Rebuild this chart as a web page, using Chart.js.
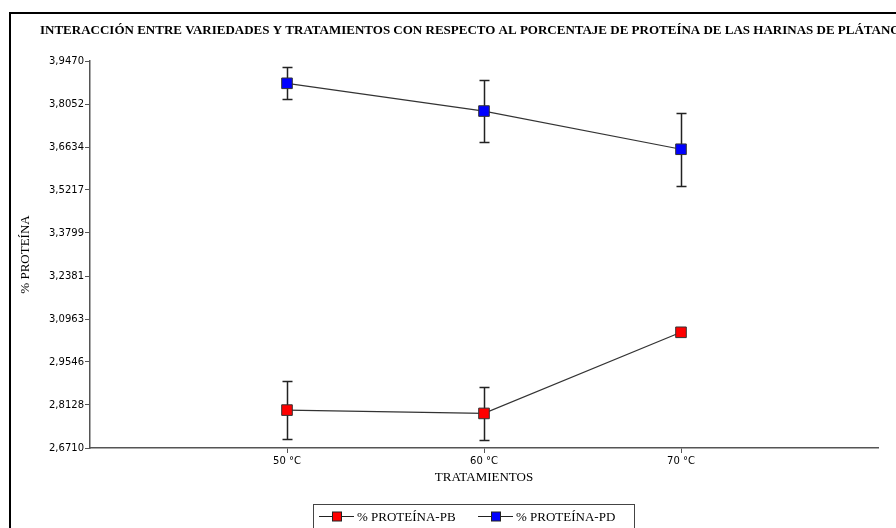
<!DOCTYPE html>
<html><head><meta charset="utf-8">
<script src="https://cdn.jsdelivr.net/npm/chart.js@4.4.0/dist/chart.umd.min.js"></script>
<style>
html,body{margin:0;padding:0;background:#fff;overflow:hidden}
#wrap{position:relative;width:896px;height:528px;overflow:hidden}
#frame{position:absolute;left:9px;top:12px;width:1000px;height:1000px;border:2px solid #000;box-sizing:border-box}
canvas{position:absolute;left:0;top:0}
</style></head><body>
<div id="wrap"><div id="frame"></div><canvas id="c" width="896" height="528"></canvas></div>
<script>
const chartTitle = 'INTERACCIÓN ENTRE VARIEDADES Y TRATAMIENTOS CON RESPECTO AL PORCENTAJE DE PROTEÍNA DE LAS HARINAS DE PLÁTANO';
const xAxisTitle = 'TRATAMIENTOS';
const yAxisTitle = '% PROTEÍNA';
const categories = ['50 °C', '60 °C', '70 °C'];
const seriesNames = ['% PROTEÍNA-PB', '% PROTEÍNA-PD'];
const pbValues = [2.796, 2.785, 3.0525];
const pbErrors = [0.096, 0.086, 0];
const pdValues = [3.8735, 3.782, 3.656];
const pdErrors = [0.053, 0.101, 0.121];
const yTickValues = [2.6710, 2.8128, 2.9546, 3.0963, 3.2381, 3.3799, 3.5217, 3.6634, 3.8052, 3.9470];
const yTickLabels = ['2,6710', '2,8128', '2,9546', '3,0963', '3,2381', '3,3799', '3,5217', '3,6634', '3,8052', '3,9470'];
const seriesColors = ['#FF0000', '#0000FF'];

const toPoints = vals => vals.map((v, i) => ({x: i + 1, y: v}));

const errorBarPlugin = {
  id: 'errorBars',
  beforeDatasetsDraw(chart) {
    const {ctx, scales: {x, y}} = chart;
    chart.data.datasets.forEach(ds => {
      ds.data.forEach((p, i) => {
        const e = ds.errors[i];
        if (!e) return;
        const px = Math.round(x.getPixelForValue(p.x)) + 0.5;
        const top = Math.round(y.getPixelForValue(p.y + e)) + 0.5;
        const bot = Math.round(y.getPixelForValue(p.y - e)) + 0.5;
        ctx.save();
        ctx.strokeStyle = '#222';
        ctx.lineWidth = 1.5;
        ctx.beginPath();
        ctx.moveTo(px, top); ctx.lineTo(px, bot);
        ctx.moveTo(px - 5, top); ctx.lineTo(px + 5, top);
        ctx.moveTo(px - 5, bot); ctx.lineTo(px + 5, bot);
        ctx.stroke();
        ctx.restore();
      });
    });
  }
};

const titlePlugin = {
  id: 'leftTitle',
  afterDraw(chart) {
    const ctx = chart.ctx;
    ctx.save();
    ctx.fillStyle = '#000';
    ctx.font = 'bold 13px "Liberation Serif", serif';
    ctx.textAlign = 'left';
    ctx.textBaseline = 'middle';
    ctx.fillText(chartTitle, 40, 31);
    ctx.restore();
  }
};

const legendPlugin = {
  id: 'boxLegend',
  afterDraw(chart) {
    const ctx = chart.ctx;
    ctx.save();
    ctx.strokeStyle = '#444';
    ctx.lineWidth = 1;
    ctx.strokeRect(313.5, 504.5, 321, 40);
    const items = [{x: 319, text: seriesNames[0], color: seriesColors[0]}, {x: 478, text: seriesNames[1], color: seriesColors[1]}];
    const cy = 516.5;
    ctx.font = '13px "Liberation Serif", serif';
    ctx.textBaseline = 'middle';
    ctx.textAlign = 'left';
    items.forEach(it => {
      ctx.strokeStyle = '#222';
      ctx.lineWidth = 1;
      ctx.beginPath();
      ctx.moveTo(it.x, cy); ctx.lineTo(it.x + 35, cy);
      ctx.stroke();
      ctx.fillStyle = it.color;
      ctx.fillRect(it.x + 13.5, cy - 4.5, 9, 9);
      ctx.strokeRect(it.x + 13.5, cy - 4.5, 9, 9);
      ctx.fillStyle = '#000';
      ctx.fillText(it.text, it.x + 38, cy + 1);
    });
    ctx.restore();
  }
};

new Chart(document.getElementById('c'), {
  type: 'line',
  data: {
    datasets: [
      {label: seriesNames[0], data: toPoints(pbValues), errors: pbErrors, borderColor: '#333', borderWidth: 1.2,
       pointStyle: 'rect', pointRadius: 7.5, pointBackgroundColor: seriesColors[0], pointBorderColor: '#333', pointBorderWidth: 1, tension: 0},
      {label: seriesNames[1], data: toPoints(pdValues), errors: pdErrors, borderColor: '#333', borderWidth: 1.2,
       pointStyle: 'rect', pointRadius: 7.5, pointBackgroundColor: seriesColors[1], pointBorderColor: '#333', pointBorderWidth: 1, tension: 0}
    ]
  },
  options: {
    responsive: false,
    animation: false,
    events: [],
    layout: {padding: {top: 61, right: 18, bottom: 30, left: 0}},
    plugins: {legend: {display: false}, title: {display: false}, tooltip: {enabled: false}},
    scales: {
      x: {
        type: 'linear', min: 0, max: 4,
        afterFit(s) { s.height = 50; },
        afterBuildTicks(s) { s.ticks = categories.map((c, i) => ({value: i + 1})); },
        ticks: {callback: (v) => categories[v - 1] || '', color: '#000', font: {family: '"DejaVu Sans", sans-serif', size: 10}, padding: 2, maxRotation: 0, autoSkip: false},
        grid: {display: true, drawOnChartArea: false, drawTicks: true, tickLength: 5, color: '#555'},
        border: {display: true, color: '#555', width: 1.5},
        title: {display: true, text: xAxisTitle, color: '#000', font: {family: '"Liberation Serif", serif', size: 13}, padding: {top: 0, bottom: 13}}
      },
      y: {
        type: 'linear', min: yTickValues[0], max: yTickValues[yTickValues.length - 1],
        afterFit(s) { s.width = 90; },
        afterBuildTicks(s) { s.ticks = yTickValues.map(v => ({value: v})); },
        ticks: {callback: (v, i) => yTickLabels[i], color: '#000', font: {family: '"DejaVu Sans", sans-serif', size: 10}, padding: 1, autoSkip: false},
        grid: {display: true, drawOnChartArea: false, drawTicks: true, tickLength: 5, color: '#555'},
        border: {display: true, color: '#555', width: 1.5},
        title: {display: true, text: yAxisTitle, color: '#000', font: {family: '"Liberation Serif", serif', size: 13}, padding: {top: 18, bottom: 0}}
      }
    }
  },
  plugins: [errorBarPlugin, titlePlugin, legendPlugin]
});
</script>
</body></html>
